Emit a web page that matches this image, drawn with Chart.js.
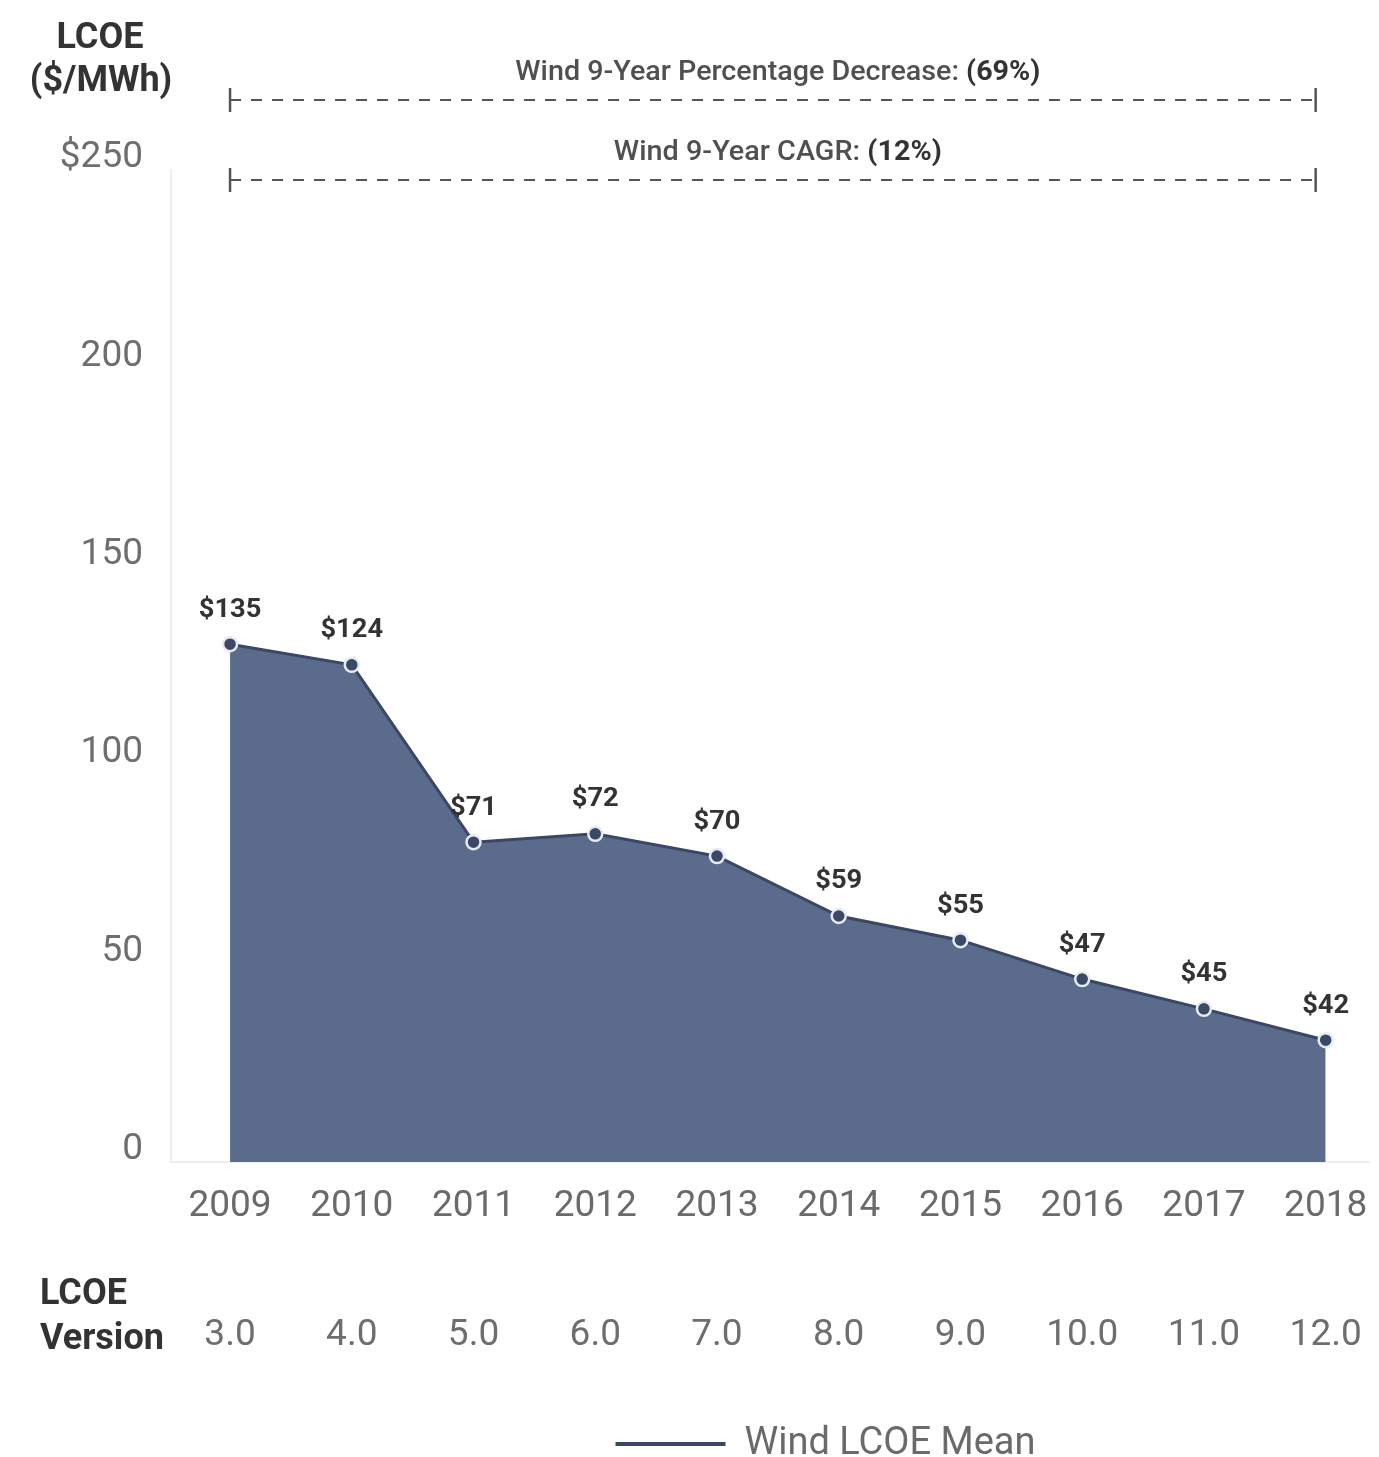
<!DOCTYPE html>
<html>
<head>
<meta charset="utf-8">
<script src="https://cdn.jsdelivr.net/npm/chart.js@4/dist/chart.umd.min.js"></script>
<style>
  html, body { margin: 0; padding: 0; background: #ffffff; }
  #wrap { width: 1379px; height: 1457px; position: relative; }
</style>
</head>
<body>
<div id="wrap"><canvas id="c" width="1379" height="1457"></canvas></div>
<script>
// ---- data ----
const years = [2009, 2010, 2011, 2012, 2013, 2014, 2015, 2016, 2017, 2018];
const versions = ['3.0', '4.0', '5.0', '6.0', '7.0', '8.0', '9.0', '10.0', '11.0', '12.0'];
// plotted heights
const windLcoeMean = [130.5, 125.3, 80.6, 82.7, 77.1, 62.0, 55.9, 46.1, 38.6, 30.7];
// printed value labels
const valueLabels = ['$135', '$124', '$71', '$72', '$70', '$59', '$55', '$47', '$45', '$42'];
const yTicks = [0, 50, 100, 150, 200, 250];
const seriesName = 'Wind LCOE Mean';
const annotations = [
  { text: 'Wind 9-Year Percentage Decrease: ', bold: '(69%)' },
  { text: 'Wind 9-Year CAGR: ', bold: '(12%)' }
];

const FONT = 'Roboto, "Open Sans", sans-serif';

const overlay = {
  id: 'overlay',
  afterLayout(chart) {
    const lg = chart.legend;
    if (lg) {
      lg.left = 272;
      lg.right = chart.width;
      lg.top = 1444 - 10 - 19;
      lg.bottom = lg.top + lg.height;
    }
  },
  afterDatasetsDraw(chart) {
    const ctx = chart.ctx;
    const meta = chart.getDatasetMeta(0);
    ctx.save();
    ctx.font = 'bold 26px ' + FONT;
    ctx.fillStyle = '#333333';
    ctx.textAlign = 'center';
    ctx.textBaseline = 'middle';
    meta.data.forEach((pt, i) => {
      ctx.save();
      ctx.translate(pt.x, pt.y - 34);
      ctx.scale(1.05, 1);
      ctx.fillText(valueLabels[i], 0, 0);
      ctx.restore();
    });
    ctx.restore();
  },
  afterDraw(chart) {
    const ctx = chart.ctx;
    const xs = chart.scales.x;
    ctx.save();
    // axis title top-left
    ctx.fillStyle = '#333333';
    ctx.font = 'bold 36px ' + FONT;
    ctx.textAlign = 'center';
    ctx.textBaseline = 'middle';
    ctx.fillText('LCOE', 100, 39);
    ctx.fillText('($/MWh)', 101, 82);
    // LCOE version row
    ctx.textAlign = 'left';
    ctx.fillText('LCOE', 40, 1295);
    ctx.fillText('Version', 40, 1340);
    ctx.font = '37px ' + FONT;
    ctx.fillStyle = '#6e6e6e';
    ctx.textAlign = 'center';
    years.forEach((yr, i) => {
      ctx.fillText(versions[i], xs.getPixelForValue(yr), 1336);
    });
    // dashed annotation lines
    const x0 = xs.getPixelForValue(years[0]);
    const x1 = xs.getPixelForValue(years[years.length - 1]) - 10;
    const rows = [{ ty: 73, ly: 100, w: 525 }, { ty: 153, ly: 180, w: 328 }];
    rows.forEach((r, k) => {
      ctx.strokeStyle = '#555555';
      ctx.lineWidth = 2;
      ctx.setLineDash([11, 10]);
      ctx.beginPath();
      ctx.moveTo(x0, r.ly);
      ctx.lineTo(x1, r.ly);
      ctx.stroke();
      ctx.setLineDash([]);
      ctx.lineWidth = 2.5;
      ctx.beginPath();
      ctx.moveTo(x0, r.ly - 12); ctx.lineTo(x0, r.ly + 12);
      ctx.moveTo(x1, r.ly - 12); ctx.lineTo(x1, r.ly + 12);
      ctx.stroke();
      // text
      const a = annotations[k];
      ctx.textBaseline = 'middle';
      ctx.textAlign = 'left';
      ctx.font = '500 27px ' + FONT;
      const w1 = ctx.measureText(a.text).width;
      ctx.font = 'bold 27px ' + FONT;
      const w2 = ctx.measureText(a.bold).width;
      const sx = r.w / (w1 + w2);
      const cx = (x0 + x1) / 2 + 5;
      ctx.save();
      ctx.translate(cx - r.w / 2, r.ty);
      ctx.scale(sx, 1);
      ctx.font = '500 27px ' + FONT;
      ctx.fillStyle = '#505050';
      ctx.fillText(a.text, 0, 0);
      ctx.font = 'bold 27px ' + FONT;
      ctx.fillStyle = '#333333';
      ctx.fillText(a.bold, w1, 0);
      ctx.restore();
    });
    ctx.restore();
  }
};

new Chart(document.getElementById('c'), {
  type: 'line',
  data: {
    datasets: [{
      label: seriesName,
      data: years.map((y, i) => ({ x: y, y: windLcoeMean[i] })),
      fill: 'origin',
      backgroundColor: '#5b6b8b',
      borderColor: '#3a4765',
      borderWidth: 3,
      tension: 0,
      pointRadius: 7,
      pointBackgroundColor: '#3b4866',
      pointBorderColor: '#e6ebf3',
      pointBorderWidth: 2.5
    }]
  },
  options: {
    responsive: false,
    animation: false,
    layout: { padding: { top: 170, left: 0, right: 0, bottom: 0 } },
    plugins: {
      tooltip: { enabled: false },
      legend: {
        display: true,
        position: 'bottom',
        align: 'center',
        labels: {
          font: { family: FONT, size: 38 },
          color: '#6a6a6a',
          boxWidth: 110,
          boxHeight: 4,
          padding: 10,
          generateLabels: (chart) => [{
            text: seriesName,
            fillStyle: '#3a4765',
            strokeStyle: '#3a4765',
            lineWidth: 0,
            fontColor: '#6a6a6a',
            datasetIndex: 0,
            hidden: false
          }]
        }
      }
    },
    scales: {
      x: {
        type: 'linear',
        min: years[0] - 0.485,
        max: years[years.length - 1] + 0.36,
        afterBuildTicks: (s) => { s.ticks = years.map(v => ({ value: v })); },
        afterFit: (s) => {
          const lh = s.chart.legend ? s.chart.legend.height : 0;
          s.height = 1457 - 1162 - lh;
          s.paddingLeft = 0;
          s.paddingRight = 0;
        },
        ticks: {
          font: { family: FONT, size: 37 },
          color: '#6a6a6a',
          padding: 23,
          maxRotation: 0,
          autoSkip: false,
          callback: (v) => String(v)
        },
        grid: { display: false, drawTicks: false },
        border: { display: true, color: '#eeeeee', width: 2 }
      },
      y: {
        min: 0,
        max: 250,
        afterBuildTicks: (s) => { s.ticks = yTicks.map(v => ({ value: v })); },
        afterFit: (s) => { s.width = 171; },
        ticks: {
          font: { family: FONT, size: 37 },
          color: '#6e6e6e',
          padding: 28,
          labelOffset: -12,
          callback: (v) => (v === 250 ? '$' + v : String(v))
        },
        grid: { display: false, drawTicks: false },
        border: { display: true, color: '#eeeeee', width: 2 }
      }
    }
  },
  plugins: [overlay]
});
</script>
</body>
</html>
